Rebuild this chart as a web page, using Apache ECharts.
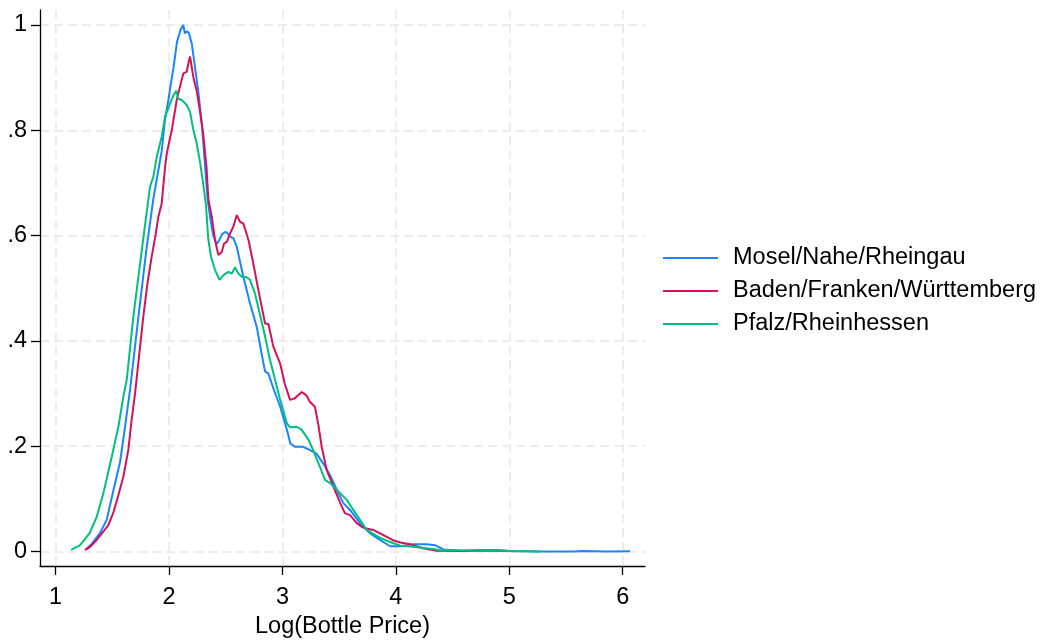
<!DOCTYPE html>
<html>
<head>
<meta charset="utf-8">
<script src="https://cdn.jsdelivr.net/npm/echarts@6/dist/echarts.min.js"></script>
<style>
html, body { margin: 0; padding: 0; background: #fff; }
#chart { width: 1044px; height: 644px; }
</style>
</head>
<body>
<div id="chart"></div>
<script>
// series names
var seriesNames = ["Mosel/Nahe/Rheingau", "Baden/Franken/Württemberg", "Pfalz/Rheinhessen"];

// kernel density traces: [log price, density]
var moselData = [
  [1.26, 0.003], [1.32, 0.015], [1.39, 0.035], [1.45, 0.06], [1.51, 0.117], [1.568, 0.17],
  [1.612, 0.237], [1.656, 0.307], [1.73, 0.446], [1.80, 0.573], [1.86, 0.668], [1.906, 0.725],
  [1.935, 0.76], [1.965, 0.822], [1.994, 0.857], [2.01, 0.88], [2.04, 0.92], [2.07, 0.968],
  [2.10, 0.99], [2.125, 1.0], [2.14, 0.984], [2.156, 0.988], [2.175, 0.985], [2.2, 0.965],
  [2.23, 0.918], [2.26, 0.87], [2.29, 0.81], [2.315, 0.74], [2.34, 0.67], [2.365, 0.63],
  [2.39, 0.6], [2.42, 0.584], [2.44, 0.59], [2.465, 0.602], [2.494, 0.607], [2.514, 0.605],
  [2.538, 0.598], [2.567, 0.595], [2.597, 0.579], [2.655, 0.522], [2.714, 0.471], [2.773, 0.427],
  [2.83, 0.36], [2.847, 0.342], [2.876, 0.338], [2.92, 0.31], [2.98, 0.275], [3.04, 0.231],
  [3.07, 0.205], [3.11, 0.199], [3.18, 0.199], [3.24, 0.193], [3.30, 0.186], [3.36, 0.167],
  [3.42, 0.145], [3.48, 0.117], [3.537, 0.092], [3.596, 0.079], [3.684, 0.054], [3.77, 0.035],
  [3.86, 0.022], [3.95, 0.01], [4.04, 0.01], [4.15, 0.014], [4.27, 0.014], [4.345, 0.012],
  [4.42, 0.004], [4.57, 0.0015], [4.77, 0.003], [4.86, 0.003], [5.0, 0.001], [5.27, 0.0],
  [5.57, 0.0], [5.65, 0.001], [5.86, 0.0], [6.065, 0.0003]
];

var badenData = [
  [1.26, 0.003], [1.30, 0.008], [1.362, 0.022], [1.42, 0.038], [1.465, 0.05], [1.51, 0.075],
  [1.553, 0.107], [1.597, 0.142], [1.641, 0.193], [1.67, 0.25], [1.70, 0.30], [1.735, 0.37],
  [1.773, 0.446], [1.81, 0.51], [1.847, 0.56], [1.88, 0.60], [1.906, 0.636], [1.935, 0.661],
  [1.965, 0.731], [1.98, 0.756], [2.024, 0.80], [2.068, 0.858], [2.097, 0.883], [2.126, 0.908],
  [2.156, 0.911], [2.17, 0.927], [2.185, 0.94], [2.2, 0.92], [2.215, 0.90], [2.244, 0.875],
  [2.27, 0.84], [2.30, 0.795], [2.33, 0.731], [2.347, 0.668], [2.377, 0.636], [2.405, 0.592],
  [2.435, 0.563], [2.465, 0.569], [2.485, 0.585], [2.51, 0.588], [2.538, 0.604], [2.567, 0.617],
  [2.597, 0.639], [2.61, 0.642], [2.626, 0.626], [2.655, 0.623], [2.70, 0.592], [2.743, 0.547],
  [2.787, 0.497], [2.847, 0.433], [2.876, 0.432], [2.92, 0.389], [2.98, 0.357], [3.02, 0.319],
  [3.067, 0.288], [3.11, 0.291], [3.17, 0.303], [3.214, 0.296], [3.24, 0.285], [3.286, 0.275],
  [3.315, 0.243], [3.346, 0.199], [3.39, 0.155], [3.45, 0.123], [3.51, 0.092], [3.55, 0.073],
  [3.596, 0.069], [3.655, 0.054], [3.70, 0.047], [3.73, 0.044], [3.80, 0.041], [3.89, 0.031],
  [3.97, 0.022], [4.04, 0.017], [4.125, 0.014], [4.24, 0.006], [4.36, 0.0015], [4.6, 0.001],
  [4.85, 0.002], [5.05, 0.0005]
];

var pfalzData = [
  [1.136, 0.003], [1.215, 0.012], [1.30, 0.035], [1.362, 0.066], [1.42, 0.11], [1.495, 0.18],
  [1.553, 0.237], [1.597, 0.294], [1.627, 0.326], [1.685, 0.446], [1.76, 0.573], [1.832, 0.693],
  [1.862, 0.712], [1.89, 0.748], [1.935, 0.788], [1.965, 0.826], [2.01, 0.851], [2.04, 0.867],
  [2.065, 0.875], [2.08, 0.86], [2.095, 0.863], [2.11, 0.858], [2.156, 0.848], [2.185, 0.835],
  [2.215, 0.80], [2.244, 0.775], [2.273, 0.74], [2.30, 0.70], [2.325, 0.66], [2.345, 0.595],
  [2.37, 0.56], [2.405, 0.535], [2.444, 0.516], [2.48, 0.525], [2.523, 0.531], [2.553, 0.528],
  [2.582, 0.54], [2.611, 0.528], [2.641, 0.522], [2.685, 0.521], [2.714, 0.516], [2.758, 0.49],
  [2.80, 0.452], [2.847, 0.408], [2.89, 0.364], [2.935, 0.326], [2.98, 0.288], [3.04, 0.243],
  [3.067, 0.236], [3.126, 0.237], [3.17, 0.231], [3.23, 0.212], [3.27, 0.193], [3.33, 0.161],
  [3.375, 0.136], [3.42, 0.13], [3.48, 0.117], [3.567, 0.098], [3.625, 0.079], [3.684, 0.06],
  [3.743, 0.041], [3.82, 0.031], [3.86, 0.026], [3.95, 0.018], [4.04, 0.011], [4.15, 0.009],
  [4.27, 0.006], [4.39, 0.003], [4.68, 0.0015], [4.83, 0.003], [5.0, 0.001], [5.27, 0.0]
];

// axis ticks
var xTicks = [1, 2, 3, 4, 5, 6];
var yTicks = [0, 0.2, 0.4, 0.6, 0.8, 1];

var colors = ["#1a85ff", "#d41159", "#00bf7f"];
var fontName = "Liberation Sans";

var chart = echarts.init(document.getElementById("chart"));

var gridLine = { show: true, lineStyle: { color: "#e8e8e8", width: 1.5, type: [9, 5] } };

chart.setOption({
  animation: false,
  backgroundColor: "#fff",
  color: colors,
  grid: { left: 40, right: 399, top: 10, bottom: 78, containLabel: false, outerBoundsMode: "none" },
  legend: {
    orient: "vertical",
    left: 663,
    top: 246,
    padding: 0,
    icon: "rect",
    itemWidth: 55,
    itemHeight: 2,
    itemGap: 9,
    data: seriesNames,
    textStyle: { fontFamily: fontName, fontSize: 23.5, color: "#000", padding: [0, 0, 0, 10] }
  },
  xAxis: {
    type: "value",
    min: 0.862,
    max: 6.197,
    name: "Log(Bottle Price)",
    nameLocation: "middle",
    nameGap: 49,
    nameTextStyle: { fontFamily: fontName, fontSize: 23.5, color: "#000" },
    axisLine: { show: true, onZero: false, lineStyle: { color: "#000", width: 1.3 } },
    axisTick: { show: true, inside: false, length: 9, customValues: xTicks, lineStyle: { color: "#000", width: 1.3 } },
    axisLabel: { customValues: xTicks, margin: 20, fontFamily: fontName, fontSize: 23.5, color: "#000" },
    splitLine: gridLine
  },
  yAxis: {
    type: "value",
    min: -0.0275,
    max: 1.0285,
    axisLine: { show: true, onZero: false, lineStyle: { color: "#000", width: 1.3 } },
    axisTick: { show: true, inside: false, length: 9, customValues: yTicks, lineStyle: { color: "#000", width: 1.3 } },
    axisLabel: {
      customValues: yTicks,
      margin: 13,
      fontFamily: fontName,
      fontSize: 23.5,
      color: "#000",
      formatter: function (v) {
        if (v === 0) return "0";
        if (v === 1) return "1";
        return String(+v.toFixed(1)).replace("0.", ".");
      }
    },
    splitLine: gridLine
  },
  series: [
    { name: seriesNames[0], type: "line", data: moselData, showSymbol: false, lineStyle: { width: 2 } },
    { name: seriesNames[1], type: "line", data: badenData, showSymbol: false, lineStyle: { width: 2 } },
    { name: seriesNames[2], type: "line", data: pfalzData, showSymbol: false, lineStyle: { width: 2 } }
  ]
});
</script>
</body>
</html>
